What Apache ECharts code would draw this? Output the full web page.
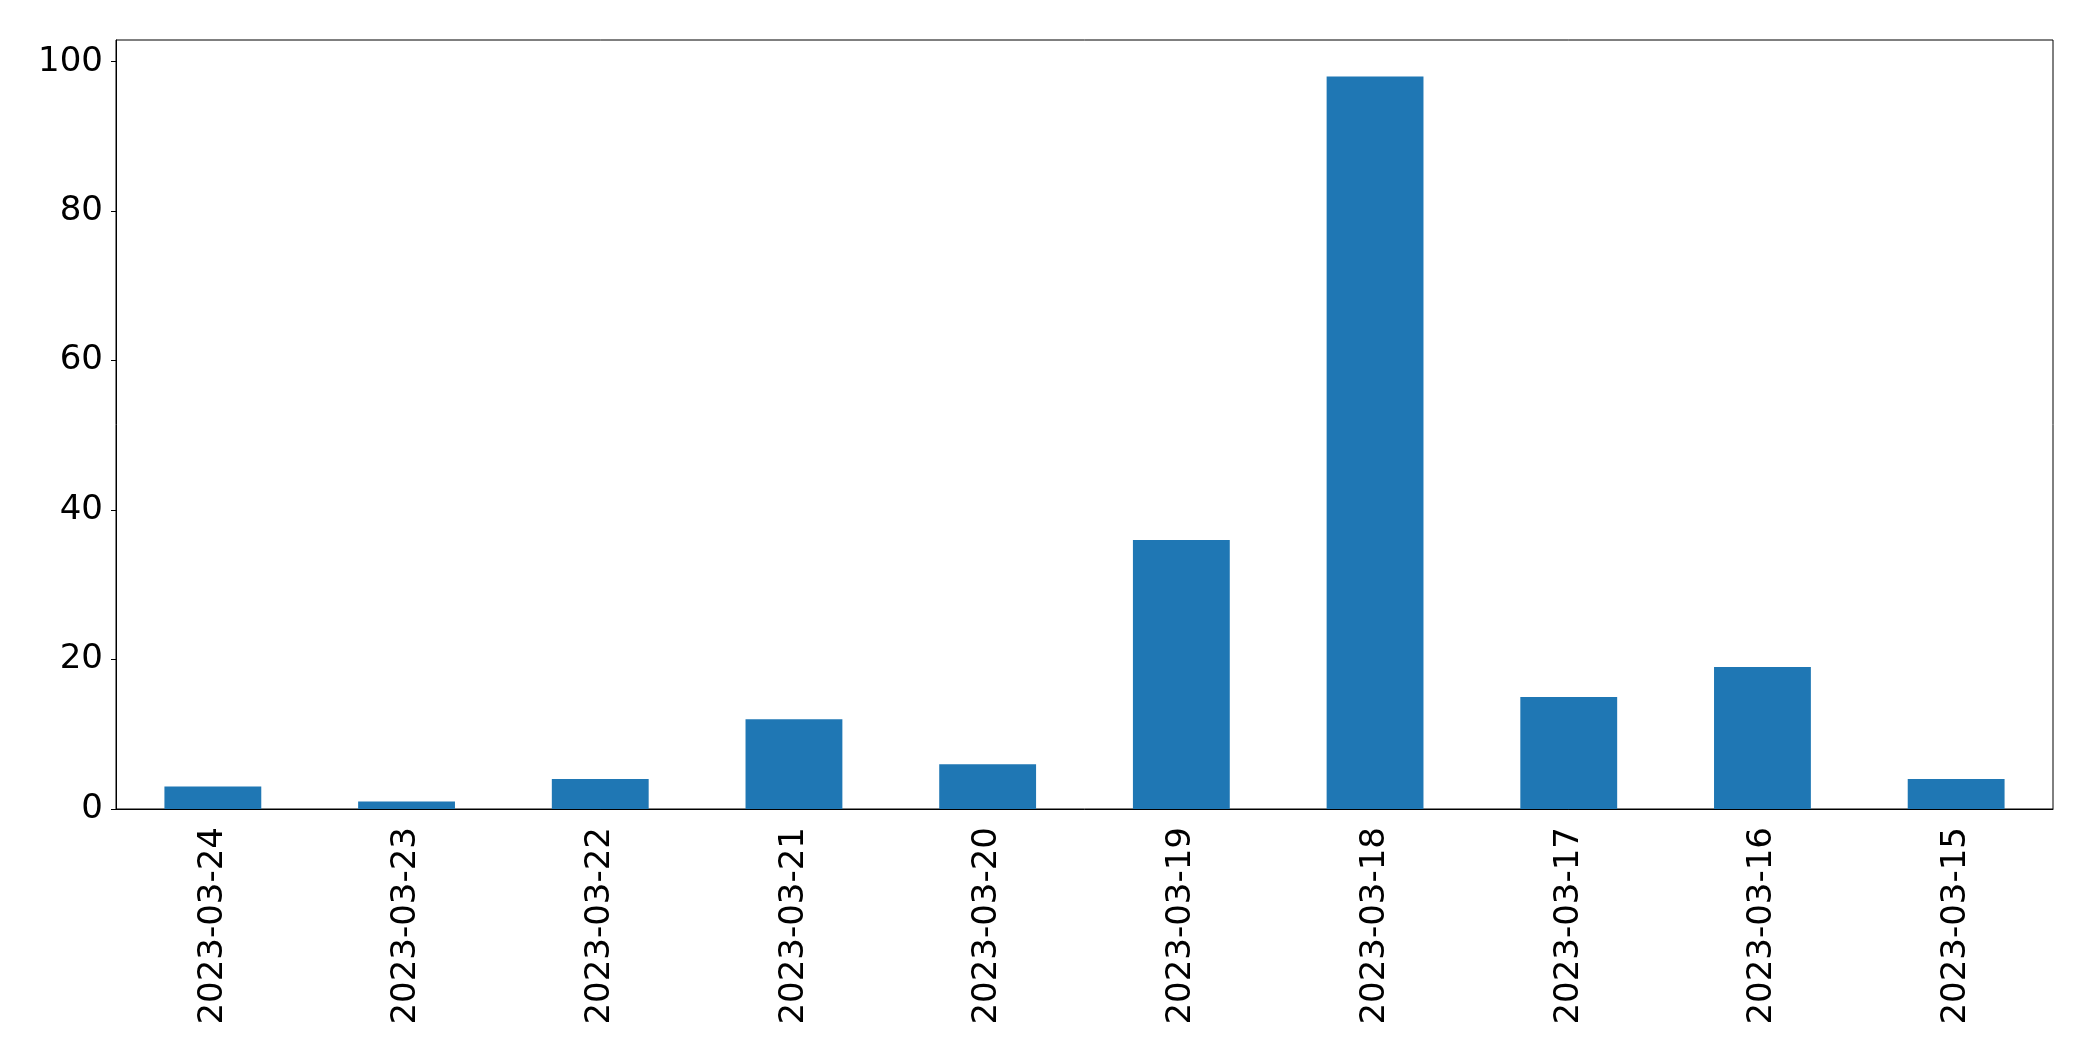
<!DOCTYPE html>
<html>
<head>
<meta charset="utf-8">
<script src="https://cdn.jsdelivr.net/npm/echarts@6/dist/echarts.min.js"></script>
<style>html,body{margin:0;padding:0;background:#fff}#chart{width:2093px;height:1061px}</style>
</head>
<body>
<div id="chart"></div>
<script>
const categories = ["2023-03-24","2023-03-23","2023-03-22","2023-03-21","2023-03-20","2023-03-19","2023-03-18","2023-03-17","2023-03-16","2023-03-15"];
const values = [3, 1, 4, 12, 6, 36, 98, 15, 19, 4];
const yTicks = [0, 20, 40, 60, 80, 100];

const chart = echarts.init(document.getElementById('chart'), null, {renderer: 'canvas'});
const font = 'DejaVu Sans';
chart.setOption({
  animation: false,
  grid: {left: 116, right: 40, top: 40, bottom: 252, show: true, borderColor: '#000', borderWidth: 1, backgroundColor: 'transparent'},
  xAxis: {
    type: 'category',
    data: categories,
    axisLine: {lineStyle: {color: '#000', width: 1}},
    axisTick: {alignWithLabel: true, length: 5, lineStyle: {color: '#000'}},
    axisLabel: {rotate: 90, color: '#000', fontFamily: font, fontSize: 34, margin: 18}
  },
  yAxis: {
    type: 'value',
    min: 0,
    max: 102.9,
    interval: 20,
    splitLine: {show: false},
    axisLine: {show: true, lineStyle: {color: '#000', width: 1}},
    axisTick: {show: true, length: 5, lineStyle: {color: '#000'}},
    axisLabel: {color: '#000', fontFamily: font, fontSize: 34, margin: 13, showMaxLabel: false,
      formatter: v => yTicks.includes(v) ? String(v) : ''}
  },
  series: [{
    type: 'bar',
    data: values,
    barWidth: '50%',
    itemStyle: {color: '#1f77b4'}
  }]
});
</script>
</body>
</html>
